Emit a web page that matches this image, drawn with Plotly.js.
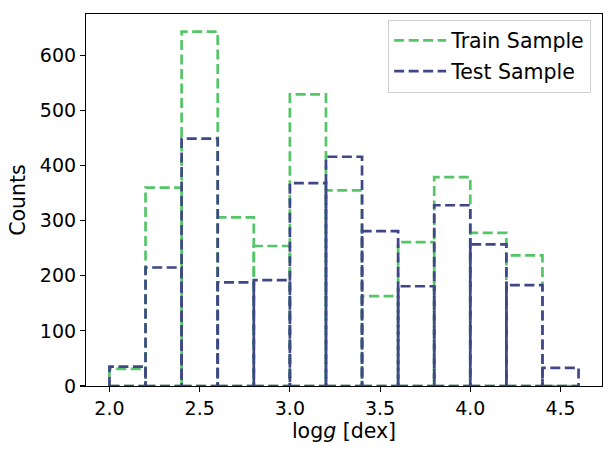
<!DOCTYPE html>
<html>
<head>
<meta charset="utf-8">
<script src="https://cdn.plot.ly/plotly-3.0.1.min.js"></script>
<style>
  body { margin: 0; background: #fff; }
  #chart { width: 615px; height: 455px; }
</style>
</head>
<body>
<div id="chart"></div>
<script>
// bin edges for log g, width 0.2
var binEdges = [2.0, 2.2, 2.4, 2.6, 2.8, 3.0, 3.2, 3.4, 3.6, 3.8, 4.0, 4.2, 4.4, 4.6];

// counts
var trainCounts = [31, 360, 643, 306, 254, 529, 355, 163, 261, 379, 278, 237, 0];
var testCounts  = [35, 215, 449, 188, 192, 368, 416, 281, 181, 328, 257, 183, 33];

var xTicks = [2.0, 2.5, 3.0, 3.5, 4.0, 4.5];

// one closed rectangle per bin, like an unfilled bar with a dashed edge
function barOutlines(counts) {
    var xs = [], ys = [];
    for (var i = 0; i < counts.length; i++) {
        var x0 = binEdges[i], x1 = binEdges[i + 1], h = counts[i];
        xs.push(x0, x1, x1, x0, x0, null);
        ys.push(0, 0, h, h, 0, null);
    }
    return {x: xs, y: ys};
}

var train = barOutlines(trainCounts);
var test = barOutlines(testCounts);

var trace1 = {
    x: train.x,
    y: train.y,
    name: 'Train Sample',
    legendgroup: 'train',
    type: 'scatter',
    mode: 'lines',
    connectgaps: false,
    line: {color: '#55c667', width: 2.7, dash: '10px,4.5px'},
    hoverinfo: 'skip'
};

var trace2 = {
    x: test.x,
    y: test.y,
    name: 'Test Sample',
    legendgroup: 'test',
    type: 'scatter',
    mode: 'lines',
    connectgaps: false,
    line: {color: '#404788', width: 2.7, dash: '10px,4.5px'},
    hoverinfo: 'skip'
};

var layout = {
    width: 615,
    height: 455,
    font: {family: '"DejaVu Sans", sans-serif', size: 19, color: '#000'},
    paper_bgcolor: '#fff',
    plot_bgcolor: '#fff',
    margin: {l: 86, r: 13, t: 14, b: 69},
    showlegend: true,
    legend: {
        x: 0.979, y: 0.985, xanchor: 'right', yanchor: 'top',
        bgcolor: '#fff', bordercolor: '#d0d0d0', borderwidth: 1,
        font: {size: 20.5},
        itemwidth: 52,
        traceorder: 'grouped',
        tracegroupgap: 1
    },
    xaxis: {
        range: [1.87, 4.73],
        tickvals: xTicks,
        tickformat: '.1f',
        ticks: 'outside', ticklen: 5, tickwidth: 1.1, tickcolor: '#000',
        showline: true, mirror: true, linecolor: '#000', linewidth: 1.1,
        showgrid: false, zeroline: false,
        title: {text: 'log<i>g</i> [dex]', standoff: 4, font: {size: 20.5}}
    },
    yaxis: {
        range: [0, 675],
        dtick: 100,
        ticks: 'outside', ticklen: 5, tickwidth: 1.1, tickcolor: '#000',
        showline: true, mirror: true, linecolor: '#000', linewidth: 1.1,
        showgrid: false, zeroline: false,
        title: {text: 'Counts', standoff: 8, font: {size: 20.5}}
    }
};

Plotly.newPlot('chart', [trace1, trace2], layout, {displayModeBar: false, staticPlot: true});
</script>
</body>
</html>
